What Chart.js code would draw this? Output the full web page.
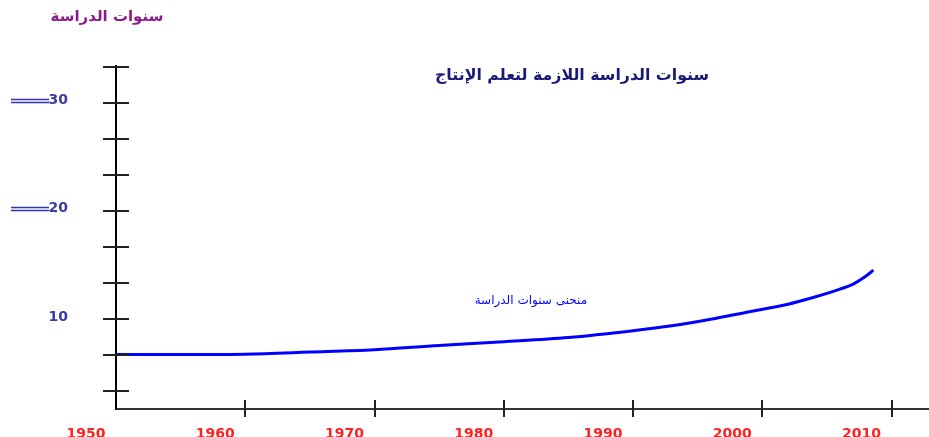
<!DOCTYPE html>
<html>
<head>
<meta charset="utf-8">
<script src="https://cdn.jsdelivr.net/npm/chart.js@4/dist/chart.umd.min.js"></script>
<style>
  body { margin: 0; background: #fff; }
  #chart { display: block; }
</style>
</head>
<body>
<canvas id="chart" width="929" height="437"></canvas>
<script>
// Data
const years = [1950, 1955, 1960, 1965, 1970, 1975, 1980, 1985, 1990, 1993, 1996, 1999, 2002, 2004, 2006, 2007, 2008, 2008.6];
const studyYears = [6.70, 6.71, 6.74, 6.93, 7.15, 7.55, 7.89, 8.28, 8.91, 9.37, 9.97, 10.67, 11.36, 12.0, 12.75, 13.2, 13.95, 14.51];

const xTicks = [1950, 1960, 1970, 1980, 1990, 2000, 2010];
const yTicks = [10 / 3, 20 / 3, 10, 40 / 3, 50 / 3, 20, 70 / 3, 80 / 3, 30, 100 / 3];
const yTickLabels = ['', '', '10', '', '', '20', '', '', '30', ''];
const yDoubleLineLabels = ['20', '30'];

const yAxisTitle = 'سنوات الدراسة';
const chartTitle = 'سنوات الدراسة اللازمة لتعلم الإنتاج';
const curveLabel = 'منحنى سنوات الدراسة';

// Tick marks crossing the axes, double lines and the free texts
const axisDecor = {
    id: 'axisDecor',
    afterDraw(chart) {
        const ctx = chart.ctx;
        const x = chart.scales.x;
        const y = chart.scales.y;
        const area = chart.chartArea;
        ctx.save();

        // y ticks cross the axis
        ctx.strokeStyle = '#222';
        ctx.lineWidth = 2;
        yTicks.forEach((v, i) => {
            const py = Math.round(y.getPixelForValue(v));
            ctx.beginPath();
            ctx.moveTo(area.left - 13, py);
            ctx.lineTo(area.left + 13, py);
            ctx.stroke();

            // double line in front of some labels
            if (yDoubleLineLabels.includes(yTickLabels[i])) {
                ctx.strokeStyle = '#3333aa';
                ctx.lineWidth = 1.3;
                ctx.beginPath();
                ctx.moveTo(11, py - 3.5);
                ctx.lineTo(49, py - 3.5);
                ctx.moveTo(11, py - 0.5);
                ctx.lineTo(49, py - 0.5);
                ctx.stroke();
                ctx.strokeStyle = '#222';
                ctx.lineWidth = 2;
            }
        });

        // x ticks cross the axis too
        xTicks.slice(1).forEach(v => {
            const px = Math.round(x.getPixelForValue(v));
            ctx.beginPath();
            ctx.moveTo(px, area.bottom - 9);
            ctx.lineTo(px, area.bottom + 8);
            ctx.stroke();
        });

        ctx.textAlign = 'center';
        ctx.textBaseline = 'middle';

        ctx.fillStyle = '#8b1a8b';
        ctx.font = 'bold 15px "DejaVu Sans"';
        ctx.fillText(yAxisTitle, 107, 17);

        ctx.fillStyle = '#1a1a7a';
        ctx.font = 'bold 15.8px "DejaVu Sans"';
        ctx.fillText(chartTitle, 572, 76);

        ctx.fillStyle = '#0000ff';
        ctx.font = '12px "DejaVu Sans"';
        ctx.fillText(curveLabel, x.getPixelForValue(1982.1), y.getPixelForValue(11.64));

        ctx.restore();
    }
};

const ctx = document.getElementById('chart').getContext('2d');
const chart = new Chart(ctx, {
    type: 'line',
    data: {
        datasets: [{
            label: curveLabel,
            data: years.map((yr, i) => ({ x: yr, y: studyYears[i] })),
            borderColor: '#0000ff',
            borderWidth: 3,
            pointRadius: 0,
            fill: false,
            tension: 0.4,
            cubicInterpolationMode: 'monotone'
        }]
    },
    options: {
        responsive: false,
        devicePixelRatio: 1,
        animation: false,
        layout: {
            padding: { top: 66, right: 0, bottom: 0, left: 0 }
        },
        plugins: {
            legend: { display: false },
            tooltip: { enabled: false }
        },
        scales: {
            x: {
                type: 'linear',
                min: 1950,
                max: 2012.9,
                afterBuildTicks: scale => {
                    scale.ticks = xTicks.map(v => ({ value: v }));
                },
                afterFit: scale => {
                    scale.height = 28;
                    scale.paddingLeft = 0;
                    scale.paddingRight = 0;
                },
                grid: { display: false },
                border: { display: true, color: '#333', width: 2 },
                ticks: {
                    color: '#ff2020',
                    font: { family: 'DejaVu Sans', size: 14, weight: 'bold' },
                    padding: 9,
                    labelOffset: -30,
                    maxRotation: 0,
                    callback: v => String(v)
                }
            },
            y: {
                type: 'linear',
                min: 5 / 3,
                max: 33.4,
                afterBuildTicks: scale => {
                    scale.ticks = yTicks.map(v => ({ value: v }));
                },
                afterFit: scale => {
                    scale.width = 116;
                    scale.paddingTop = 0;
                    scale.paddingBottom = 0;
                },
                grid: { display: false },
                border: { display: true, color: '#000', width: 2 },
                ticks: {
                    color: '#3c3ca0',
                    font: { family: 'DejaVu Sans', size: 14, weight: 'bold' },
                    padding: 40,
                    labelOffset: -2,
                    callback: (v, i) => yTickLabels[i]
                }
            }
        }
    },
    plugins: [axisDecor]
});
</script>
</body>
</html>
